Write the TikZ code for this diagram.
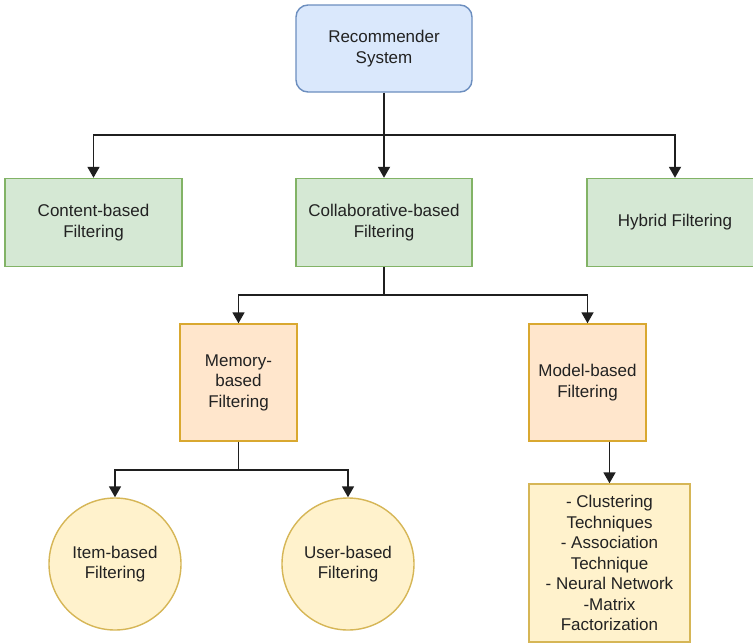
\documentclass[tikz,border=0pt]{standalone}
\usepackage{fontspec}
\setmainfont{Liberation Sans}
\usetikzlibrary{arrows.meta}
\definecolor{txt}{HTML}{222222}
\definecolor{blueF}{HTML}{DAE8FC}\definecolor{blueD}{HTML}{6C8EBF}
\definecolor{greenF}{HTML}{D5E8D4}\definecolor{greenD}{HTML}{82B366}
\definecolor{orangeF}{HTML}{FFE6CC}\definecolor{orangeD}{HTML}{D9A830}
\definecolor{yelF}{HTML}{FFF2CC}\definecolor{yelD}{HTML}{D6B656}
\begin{document}
\begin{tikzpicture}[x=1pt,y=-1pt,
  base/.style={draw, line width=1.4pt, align=center, text=txt, inner sep=0pt,
    font=\fontsize{17}{20.5}\selectfont},
  topbox/.style={base, fill=blueF, draw=blueD, rounded corners=12pt},
  greenbox/.style={base, fill=greenF, draw=greenD},
  orangebox/.style={base, fill=orangeF, draw=orangeD},
  yelbox/.style={base, fill=yelF, draw=yelD},
  circ/.style={base, circle, fill=yelF, draw=yelD, minimum size=132pt},
  conn/.style={draw=black!88, line width=1.8pt},
  arr/.style={conn, -{Triangle[length=11pt,width=12pt]}}]
\useasboundingbox (0,0) rectangle (753,643);
\fill[white] (0,0) rectangle (753,643);
\node[topbox, minimum width=176pt, minimum height=87pt] (rec) at (384,48.5) {Recommender\\System};
\node[greenbox, minimum width=177pt, minimum height=88pt] (content) at (93.5,222.5) {Content-based\\Filtering};
\node[greenbox, minimum width=176pt, minimum height=88pt] (collab) at (384,222.5) {Collaborative-based\\Filtering};
\node[greenbox, minimum width=176pt, minimum height=88pt] (hybrid) at (675,222.5) {Hybrid Filtering};
\node[orangebox, minimum width=117pt, minimum height=117pt] (memory) at (238.5,382.5) {Memory-\\based\\Filtering};
\node[orangebox, minimum width=117pt, minimum height=117pt] (model) at (587.5,382.5) {Model-based\\Filtering};
\node[circ] (item) at (115,564) {Item-based\\Filtering};
\node[circ] (user) at (348,564) {User-based\\Filtering};
\node[yelbox, minimum width=161pt, minimum height=158pt] (techs) at (609.5,563) {- Clustering\\Techniques\\- Association\\Technique\\- Neural Network\\-Matrix\\Factorization};
\coordinate (j1) at (384,135);
\coordinate (j2) at (384,295);
\coordinate (j3) at (238.5,470);
\draw[conn] (rec) -- (j1);
\draw[arr] (j1) -| (content.north);
\draw[arr] (j1) -- (collab.north);
\draw[arr] (j1) -| (hybrid.north);
\draw[conn] (collab) -- (j2);
\draw[arr] (j2) -| (memory.north);
\draw[arr] (j2) -| (model.north);
\draw[conn] (memory) -- (j3);
\draw[arr] (j3) -| (item.north);
\draw[arr] (j3) -| (user.north);
\draw[arr] (techs.north |- model.south) -- (techs.north);
\end{tikzpicture}
\end{document}
